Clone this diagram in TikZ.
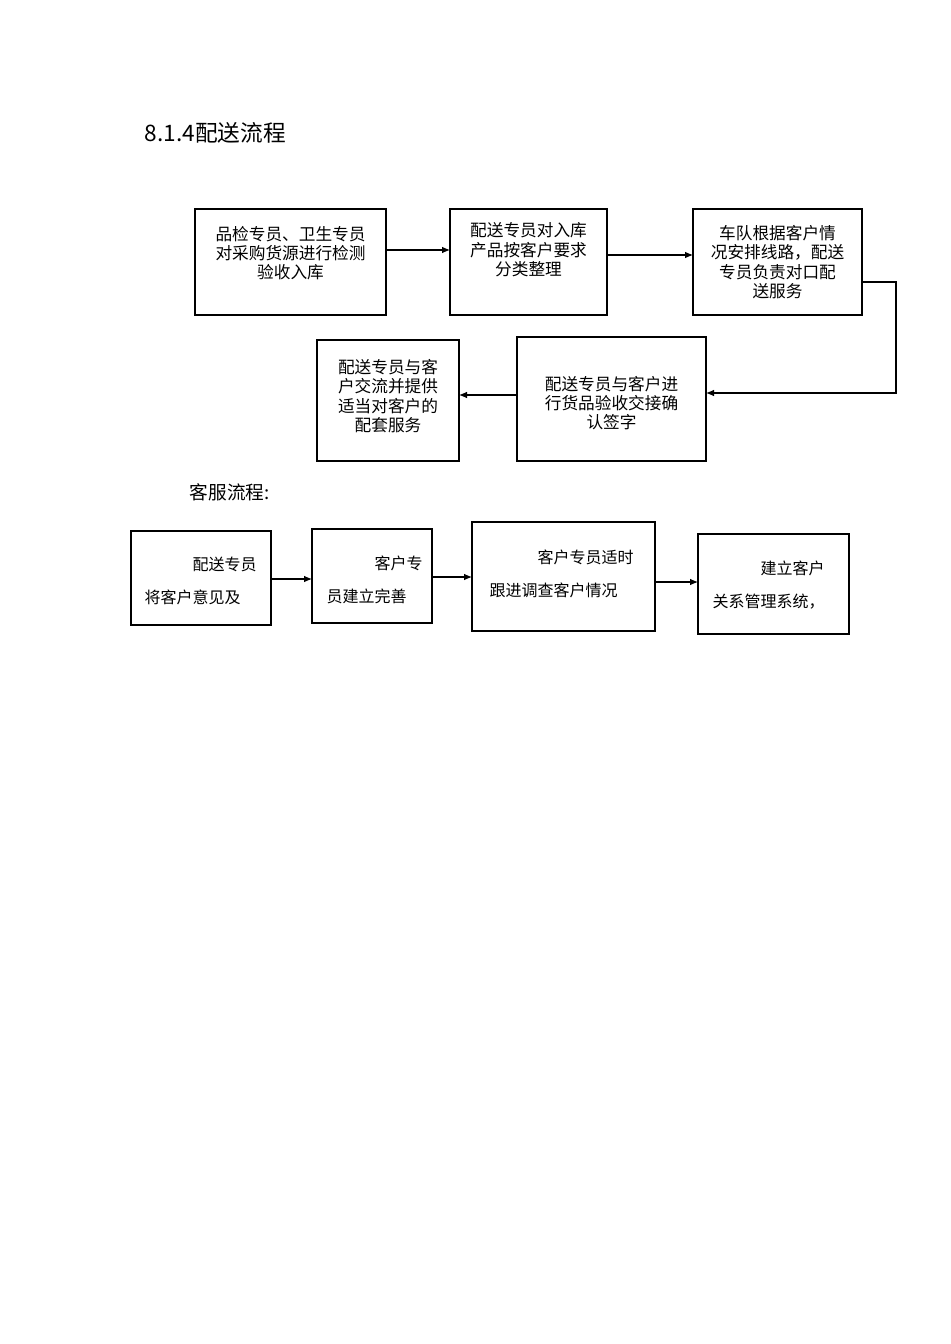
\documentclass[tikz,border=0pt]{standalone}
\usepackage{fontspec}
\setmainfont{Noto Sans CJK SC}
\usetikzlibrary{arrows.meta}
\begin{document}
\begin{tikzpicture}[x=0.75pt,y=-0.75pt,
  bx/.style={draw,thick,inner sep=0pt},
  tx/.style={align=center,font=\fontsize{12.5pt}{14.5pt}\selectfont},
  tx2/.style={align=left,font=\fontsize{12pt}{25pt}\selectfont},
  ar/.style={-{Latex[length=6pt,width=5pt]},thick}]
\useasboundingbox (0,0) rectangle (950,1344);
\node[anchor=west,font=\fontsize{17pt}{20pt}\selectfont] (title) at (140,133) {8.1.4配送流程};
\draw[bx] (195,209) rectangle (386,315); \node[tx] (A) at (290.5,253) {品检专员、卫生专员\\对采购货源进行检测\\验收入库};
\draw[bx,line width=1.1pt] (450,209) rectangle (607,315); \node[tx] (B) at (528.5,250) {配送专员对入库\\产品按客户要求\\分类整理};
\draw[bx,line width=1.1pt] (693,209) rectangle (862,315); \node[tx] (C) at (777.5,262) {车队根据客户情\\况安排线路，配送\\专员负责对口配\\送服务};
\draw[bx,line width=1.1pt] (517,337) rectangle (706,461); \node[tx] (D) at (611.5,403) {配送专员与客户进\\行货品验收交接确\\认签字};
\draw[bx] (317,340) rectangle (459,461); \node[tx] (E) at (388,396) {配送专员与客\\户交流并提供\\适当对客户的\\配套服务};
\coordinate (a1) at (386,250); \coordinate (b1) at (450,250);
\coordinate (b2) at (607,255); \coordinate (c2) at (693,255);
\coordinate (c3) at (862,282); \coordinate (d3) at (706,393);
\coordinate (d4) at (517,395); \coordinate (e4) at (459,395);
\draw[ar] (a1) -- (b1);
\draw[ar] (b2) -- (c2);
\draw[ar] (c3) -- (896,282) -- (896,393) -- (d3);
\draw[ar] (d4) -- (e4);
\node[anchor=west,font=\fontsize{14pt}{16pt}\selectfont] (kf) at (185,492) {客服流程:};
\draw[bx] (131,531) rectangle (271,625); \node[tx2,anchor=north west] (F) at (140,552) {\hspace*{3em}配送专员\\将客户意见及};
\draw[bx] (312,529) rectangle (432,623); \node[tx2,anchor=north west] (G) at (322,551) {\hspace*{3em}客户专\\员建立完善};
\draw[bx] (472,522) rectangle (655,631); \node[tx2,anchor=north west] (H) at (485,545) {\hspace*{3em}客户专员适时\\跟进调查客户情况};
\draw[bx] (698,534) rectangle (849,634); \node[tx2,anchor=north west] (I) at (708,556) {\hspace*{3em}建立客户\\关系管理系统，};
\draw[ar] (271,579) -- (312,579);
\draw[ar] (432,577) -- (472,577);
\draw[ar] (655,582) -- (698,582);
\end{tikzpicture}
\end{document}
